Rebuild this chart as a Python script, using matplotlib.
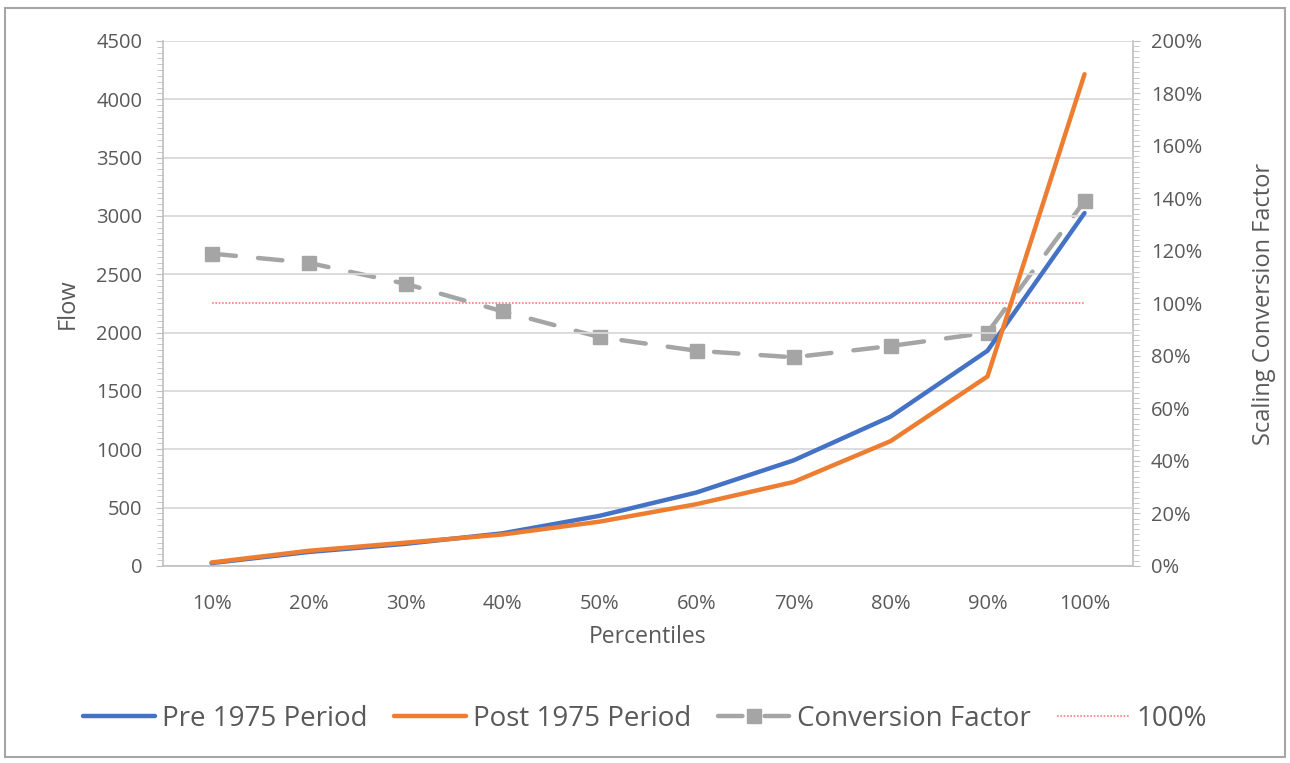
import matplotlib.pyplot as plt
from matplotlib.patches import Rectangle
from matplotlib.ticker import MultipleLocator, PercentFormatter
from matplotlib import font_manager

# Data
percentiles = ['10%', '20%', '30%', '40%', '50%', '60%', '70%', '80%', '90%', '100%']
pre_1975 = [25, 120, 190, 280, 430, 630, 905, 1280, 1845, 3025]
post_1975 = [30, 130, 200, 270, 380, 530, 720, 1070, 1625, 4215]
conversion = [1.19, 1.155, 1.075, 0.97, 0.872, 0.82, 0.795, 0.838, 0.889, 1.39]
reference_line = [1.0] * len(percentiles)

grey_text = '#595959'
grid_col = '#d9d9d9'

names = {f.name for f in font_manager.fontManager.ttflist}
font = 'Open Sans' if 'Open Sans' in names else 'DejaVu Sans'
plt.rcParams['font.family'] = [font, 'DejaVu Sans']

fig = plt.figure(figsize=(12.9, 7.63), dpi=100)
ax1 = fig.add_axes([0.1264, 0.2582, 0.7519, 0.6881])
ax2 = ax1.twinx()

x = list(range(len(percentiles)))

# Flow lines on the left axis
l1, = ax1.plot(x, pre_1975, color='#4472c4', lw=3.2, solid_capstyle='round', zorder=3)
l2, = ax1.plot(x, post_1975, color='#ed7d31', lw=3.2, solid_capstyle='round', zorder=3)

# Conversion factor and 100% reference on the right axis
l3, = ax2.plot(x, conversion, color='#a5a5a5', lw=3.2, dashes=(5.5, 5), dash_capstyle='round',
               marker='s', markersize=9.5, markeredgecolor='#a5a5a5')
l4, = ax2.plot(x, reference_line, color='#ff7b7b', lw=1.2, ls=(0, (1, 1)))

ax1.set_zorder(ax2.get_zorder() + 1)
ax1.patch.set_visible(False)

ax1.set_xlim(-0.5, len(percentiles) - 0.5)
ax1.set_ylim(0, 4500)
ax2.set_ylim(0, 2.0)
ax1.set_xticks(x)
ax1.set_xticklabels(percentiles)
ax1.yaxis.set_major_locator(MultipleLocator(500))
ax1.yaxis.set_minor_locator(MultipleLocator(50))
ax2.yaxis.set_major_locator(MultipleLocator(0.2))
ax2.yaxis.set_minor_locator(MultipleLocator(0.02))
ax2.yaxis.set_major_formatter(PercentFormatter(1.0, decimals=0))

ax1.grid(axis='y', color=grid_col, lw=1.3)
ax1.set_axisbelow(True)

for ax in (ax1, ax2):
    for side, sp in ax.spines.items():
        sp.set_color('#bfbfbf')
        sp.set_linewidth(1.2)
    ax.spines['top'].set_visible(False)
    ax.tick_params(which='both', color='#bfbfbf', labelcolor=grey_text, labelsize=14.5)
    ax.tick_params(which='major', length=5)
    ax.tick_params(which='minor', length=4)
ax1.spines['right'].set_visible(False)
ax2.spines['left'].set_visible(False)
ax2.spines['bottom'].set_visible(False)
ax1.tick_params(axis='x', length=0, pad=20)
ax1.tick_params(axis='y', pad=10)
ax2.tick_params(axis='y', pad=8)

ax1.set_xlabel('Percentiles', fontsize=16.5, color=grey_text, labelpad=8)
ax1.set_ylabel('Flow', fontsize=17, color=grey_text, labelpad=12)
ax2.set_ylabel('Scaling Conversion Factor', fontsize=17, color=grey_text, labelpad=36)

fig.legend([l1, l2, l3, l4], ['Pre 1975 Period', 'Post 1975 Period', 'Conversion Factor', '100%'],
           loc='center', bbox_to_anchor=(0.5, 0.058), ncol=4, frameon=False,
           handlelength=2.6, handletextpad=0.25, columnspacing=0.95,
           prop={'size': 20}, labelcolor=grey_text)

# Outer frame around the chart
fig.patches.append(Rectangle((0.004, 0.008), 0.992, 0.982, transform=fig.transFigure,
                             fill=False, edgecolor='#a6a6a6', lw=1.5))

fig.savefig('out.png', dpi=100)
